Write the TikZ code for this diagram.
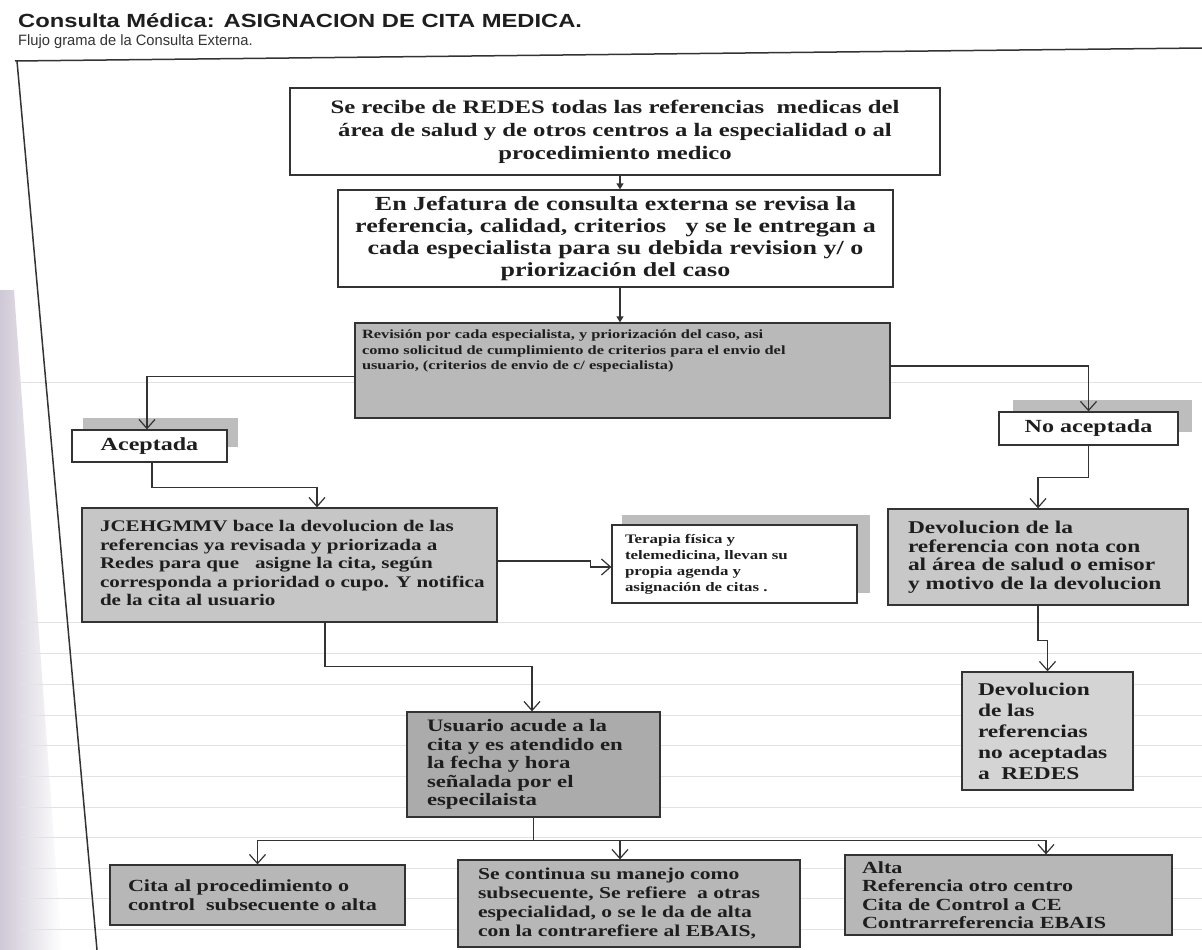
\documentclass[tikz,border=0pt]{standalone}
\usepackage{fontspec}
\setmainfont{Liberation Serif}[FakeStretch=1.3]
\newfontfamily\titlefont{Liberation Sans}[FakeStretch=1.25]
\newfontfamily\subfont{Liberation Sans}[FakeStretch=0.98]
\usetikzlibrary{arrows.meta}
\definecolor{ink}{HTML}{1E1E1E}
\definecolor{frame}{HTML}{333333}
\definecolor{fillthree}{HTML}{B9B9B9}
\definecolor{filljce}{HTML}{C6C6C6}
\definecolor{filldev}{HTML}{C8C8C8}
\definecolor{fillusu}{HTML}{ABABAB}
\definecolor{filldevtwo}{HTML}{D4D4D4}
\definecolor{fillbot}{HTML}{B7B7B7}
\definecolor{shadowc}{HTML}{BDBDBD}
\definecolor{paperline}{HTML}{E2E2E2}
\definecolor{edgec}{HTML}{CFC8D6}
\newcommand\leftblock[2]{\makebox[#1][l]{\begin{tabular}{@{}l@{}}#2\end{tabular}}}
\begin{document}
\begin{tikzpicture}[x=1pt,y=-1pt,
  base/.style={draw=frame, line width=1.3pt, inner sep=0pt, text=ink},
  wbox/.style={base, fill=white},
  gbox/.style={base, fill=#1},
  ln/.style={draw=frame, line width=1.3pt},
  arr/.style={ln, -{Straight Barb[length=9pt,width=16pt,line width=1.2pt]}},
  farr/.style={ln, -{Triangle[length=6pt,width=7pt]}},
  shadowbox/.style={fill=shadowc, draw=none},
  pline/.style={draw=paperline, line width=1pt}]
\useasboundingbox (0,0) rectangle (1202,950);
\fill[white] (0,0) rectangle (1202,950);
% paper edge shading
\shade[left color=edgec, right color=white] (0,290) -- (14,290) -- (62,950) -- (0,950) -- cycle;
% ruled paper lines
\foreach \yy in {382,622,653,684,715,745,776,807,837,868,898,929}
  \draw[pline] (20,\yy) -- (1202,\yy);
% frame
\draw[draw=frame, line width=1.5pt] (15,61) -- (1202,48);
\draw[draw=frame, line width=1.5pt] (17,61) -- (97,950);
% titles
\node[anchor=base west, inner sep=0pt, text=ink] (title) at (18,28)
  {\titlefont\fontsize{19}{22}\selectfont\bfseries Consulta Médica: ASIGNACION DE CITA MEDICA.};
\node[anchor=base west, inner sep=0pt, text=black!80] (sub) at (18,46)
  {\subfont\fontsize{15}{18}\selectfont Flujo grama de la Consulta Externa.};
% shadows
\fill[shadowbox] (83,418) rectangle (238,447);
\fill[shadowbox] (1013,400) rectangle (1192,432);
\fill[shadowbox] (622,515) rectangle (870,593);
% boxes
\node[wbox, minimum width=650pt, minimum height=87pt] (b1) at (615,131.5)
  {\parbox{640pt}{\centering\fontsize{19}{23}\selectfont\bfseries
   Se recibe de REDES todas las referencias\ \ medicas del\\
   área de salud y de otros centros a la especialidad o al\\
   procedimiento medico}};
\node[wbox, minimum width=555pt, minimum height=97pt] (b2) at (615.5,238.5)
  {\parbox{545pt}{\centering\fontsize{20}{22}\selectfont\bfseries
   En Jefatura de consulta externa se revisa la\\
   referencia, calidad, criterios\ \ \ y se le entregan a\\
   cada especialista para su debida revision y/ o\\
   priorización del caso}};
\node[gbox=fillthree, minimum width=535pt, minimum height=95pt] (b3) at (622.5,370.5)
  {\parbox[c][81pt][t]{521pt}{\raggedright\fontsize{12.6}{15.5}\selectfont\bfseries
   Revisión por cada especialista, y priorización del caso, asi\\
   como solicitud de cumplimiento de criterios para el envio del\\
   usuario, (criterios de envio de c/ especialista)}};
\node[wbox, minimum width=155pt, minimum height=32pt] (acc) at (149.5,446)
  {\fontsize{18.5}{20}\selectfont\bfseries Aceptada};
\node[wbox, minimum width=179pt, minimum height=33pt] (noacc) at (1088.5,428.5)
  {\fontsize{18.5}{20}\selectfont\bfseries No aceptada};
\node[gbox=filljce, minimum width=415pt, minimum height=114pt] (jce) at (289.5,565)
  {\fontsize{16.2}{18.4}\selectfont\bfseries\leftblock{379pt}{%
   JCEHGMMV bace la devolucion de las\\
   referencias ya revisada y priorizada a\\
   Redes para que\ \ \ asigne la cita, según\\
   corresponda a prioridad o cupo. Y notifica\\
   de la cita al usuario}};
\node[wbox, minimum width=245pt, minimum height=78pt] (ter) at (734.5,564)
  {\parbox{219pt}{\raggedright\fontsize{13}{16}\selectfont\bfseries
   Terapia física y\\
   telemedicina, llevan su\\
   propia agenda y\\
   asignación de citas .}};
\node[gbox=filldev, minimum width=300pt, minimum height=96pt] (dev) at (1038,557)
  {\parbox{260pt}{\raggedright\fontsize{18}{18.6}\selectfont\bfseries
   Devolucion de la\\
   referencia con nota con\\
   al área de salud o emisor\\
   y motivo de la devolucion}};
\node[gbox=filldevtwo, minimum width=171pt, minimum height=118pt] (dev2) at (1047.5,731)
  {\parbox{139pt}{\raggedright\fontsize{18}{21}\selectfont\bfseries
   Devolucion\\
   de las\\
   referencias\\
   no aceptadas\\
   a\ \ REDES}};
\node[gbox=fillusu, minimum width=253pt, minimum height=105pt] (usu) at (533.5,764.5)
  {\parbox{213pt}{\raggedright\fontsize{17.5}{18.5}\selectfont\bfseries
   Usuario acude a la\\
   cita y es atendido en\\
   la fecha y hora\\
   señalada por el\\
   especilaista}};
\node[gbox=fillbot, minimum width=295pt, minimum height=60pt] (bA) at (257.5,895)
  {\parbox{259pt}{\raggedright\fontsize{17}{18.5}\selectfont\bfseries
   Cita al procedimiento o\\
   control\ \ subsecuente o alta}};
\node[gbox=fillbot, minimum width=342pt, minimum height=87pt] (bB) at (629,903.5)
  {\parbox{302pt}{\raggedright\fontsize{16.6}{19}\selectfont\bfseries
   Se continua su manejo como\\
   subsecuente, Se refiere\ \ a otras\\
   especialidad, o se le da de alta\\
   con la contrarefiere al EBAIS,}};
\node[gbox=fillbot, minimum width=327pt, minimum height=80pt] (bC) at (1008.5,895)
  {\parbox{293pt}{\raggedright\fontsize{17}{18.5}\selectfont\bfseries
   Alta\\
   Referencia otro centro\\
   Cita de Control a CE\\
   Contrarreferencia EBAIS}};
% connectors
\draw[farr] ([xshift=5pt]b1.south) -- ([xshift=4.5pt]b2.north);
\draw[farr] ([xshift=4.5pt]b2.south) -- ([xshift=-2.5pt]b3.north);
\draw[arr] ([yshift=-6pt]b3.west) -| ([xshift=-2.5pt]acc.north);
\draw[arr] ([yshift=4.5pt]b3.east) -| (noacc.north);
\draw[arr] ([xshift=2.5pt]acc.south) -- ++(0,25) -| ([xshift=27.5pt]jce.north);
\draw[arr] (noacc.south) -- ++(0,32) -| (dev.north);
\draw[arr] ([yshift=4pt]jce.east) -- ++(93,0) -- ++(0,6) -- ([yshift=-3pt]ter.west);
\draw[arr] (dev.south) -- ++(0,35) -| (dev2.north);
\draw[arr] ([xshift=35.5pt]jce.south) -- ++(0,44) -| ([xshift=-1.5pt]usu.north);
\draw[ln] (usu.south) -- ++(0,23) coordinate (sp);
\draw[arr] (sp) -| (bA.north);
\draw[arr] (sp) -| ([xshift=-9pt]bB.north);
\draw[arr] (sp) -| ([xshift=37.5pt]bC.north);
\end{tikzpicture}
\end{document}
